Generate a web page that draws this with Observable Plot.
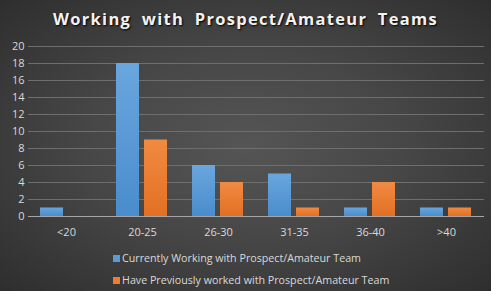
<!DOCTYPE html>
<html><head><meta charset="utf-8">
<script src="https://cdn.jsdelivr.net/npm/d3@7"></script>
<script src="https://cdn.jsdelivr.net/npm/@observablehq/plot@0.6"></script>
<style>
html,body{margin:0;padding:0;}
#wrap{width:491px;height:291px;overflow:hidden;position:relative;
background:radial-gradient(ellipse at 50% 50%, #555555 0%, #474747 45%, #2e2e2e 100%);
font-family:"Open Sans",sans-serif;}
#title{height:36px;line-height:38px;text-align:center;color:#f2f2f2;font-weight:bold;font-size:16.5px;letter-spacing:1.3px;word-spacing:5px;text-shadow:1px 1px 2px #000;}
#legend{display:flex;flex-direction:column;align-items:flex-start;margin-left:113px;margin-top:3px;color:#d9d9d9;font-size:10.7px;}
.item{display:flex;align-items:center;height:22px;}
.sw{width:7px;height:7px;margin-right:2px;}
svg{display:block;}
</style></head><body>
<div id="wrap"><div id="title">Working with Prospect/Amateur Teams</div><div id="chart"></div><div id="legend"></div></div>
<script>
const categories = ["<20","20-25","26-30","31-35","36-40",">40"];
const seriesNames = ["Currently Working with Prospect/Amateur Team","Have Previously worked with Prospect/Amateur Team"];
const current = [1,18,6,5,1,1];
const previous = [0,9,4,1,4,1];
const yTicks = [0,2,4,6,8,10,12,14,16,18,20];
const colors = ["#5b9bd5","#ed7d31"];

const data = [];
categories.forEach((c,i)=>{
  data.push({cat:c, series:seriesNames[0], value:current[i]});
  data.push({cat:c, series:seriesNames[1], value:previous[i]});
});

const chart = Plot.plot({
  width:491, height:208,
  marginTop:10, marginBottom:28, marginLeft:26, marginRight:6,
  style:{background:"transparent", color:"#d9d9d9", fontSize:"11px", fontFamily:"Open Sans, sans-serif"},
  fx:{domain:categories, padding:0, label:null, tickSize:0, tickPadding:9},
  x:{domain:seriesNames, paddingInner:0.172, paddingOuter:0.405, axis:null},
  y:{domain:[0,20], ticks:yTicks, label:null},
  marks:[
    Plot.ruleY(yTicks.filter(d=>d>0), {stroke:"#6e6e6e", strokeWidth:1}),
    Plot.axisY({ticks:yTicks, tickSize:0, tickPadding:4, label:null, anchor:"left", fill:"#d9d9d9"}),
    Plot.axisFx({tickSize:0, tickPadding:12, label:null, anchor:"bottom"}),
    Plot.barY(data, {fx:"cat", x:"series", y:"value", fill:d=> d.series===seriesNames[0] ? "url(#gb)" : "url(#go)"}),
    Plot.ruleY([0], {stroke:"#a6a6a6", strokeWidth:1})
  ]
});
const ns="http://www.w3.org/2000/svg";
const defs=document.createElementNS(ns,"defs");
defs.innerHTML=`<linearGradient id="gb" x1="0" y1="0" x2="0" y2="1"><stop offset="0" stop-color="#6aa6de"/><stop offset="1" stop-color="#4a8ccc"/></linearGradient>
<linearGradient id="go" x1="0" y1="0" x2="0" y2="1"><stop offset="0" stop-color="#f18a42"/><stop offset="1" stop-color="#e27023"/></linearGradient>`;
chart.insertBefore(defs, chart.firstChild);
document.getElementById("chart").appendChild(chart);

const leg=document.getElementById("legend");
seriesNames.forEach((s,i)=>{
  const it=document.createElement("div");it.className="item";
  const sw=document.createElement("div");sw.className="sw";sw.style.background=colors[i];
  const t=document.createElement("span");t.textContent=s;
  it.appendChild(sw);it.appendChild(t);leg.appendChild(it);
});
</script></body></html>
